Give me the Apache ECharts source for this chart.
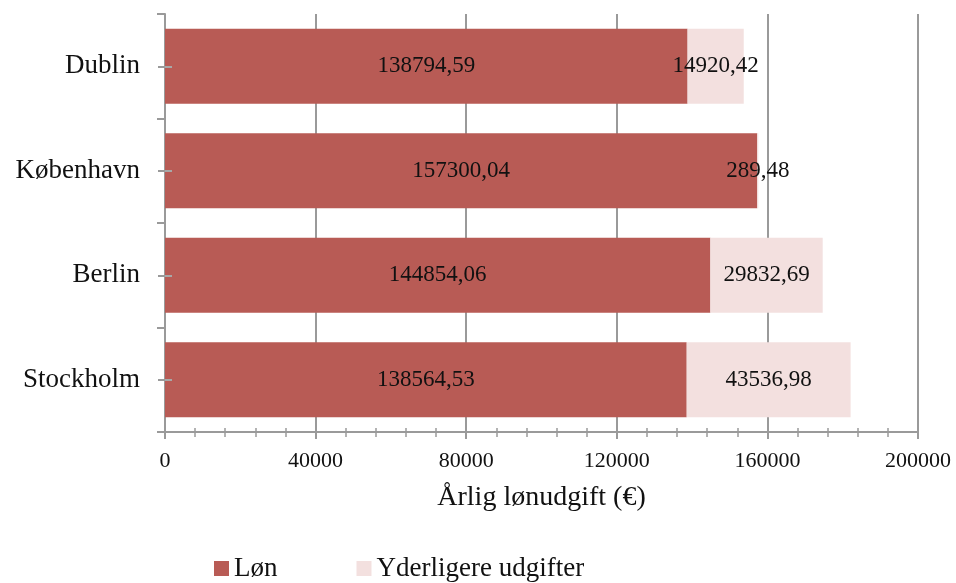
<!DOCTYPE html>
<html>
<head>
<meta charset="utf-8">
<script src="https://cdn.jsdelivr.net/npm/echarts@6/dist/echarts.min.js"></script>
<style>
  html, body { margin: 0; padding: 0; background: #fff; }
  #chart { width: 956px; height: 583px; }
</style>
</head>
<body>
<div id="chart"></div>
<script>
const cities = ['Stockholm', 'Berlin', 'København', 'Dublin']
const lon = [138564.53, 144854.06, 157300.04, 138794.59]
const extra = [43536.98, 29832.69, 289.48, 14920.42]
const seriesNames = ['Løn', 'Yderligere udgifter']
const axisTitle = 'Årlig lønudgift (€)'

const FONT = '"Liberation Serif", serif'
const GRAY = '#9a9a9a'

function fmt(value) {
  return Number(value).toFixed(2).replace('.', ',')
}

const chart = echarts.init(document.getElementById('chart'))

const xBase = { type: 'value', min: 0, max: 200000, interval: 40000, gridIndex: 0 }

const barLabel = {
  show: true,
  position: 'inside',
  formatter: p => fmt(p.value),
  fontFamily: FONT,
  fontSize: 23,
  color: '#111',
}

chart.setOption({
  animation: false,
  grid: { left: 165, right: 38, top: 14, bottom: 151 },
  legend: {
    left: 214,
    top: 555,
    padding: 0,
    itemWidth: 15,
    itemHeight: 15,
    itemGap: 79,
    icon: 'rect',
    textStyle: { fontFamily: FONT, fontSize: 27, color: '#111' },
    data: seriesNames,
  },
  xAxis: [
    {
      ...xBase,
      position: 'bottom',
      z: 0,
      name: axisTitle,
      nameLocation: 'middle',
      nameGap: 52,
      nameTextStyle: { fontFamily: FONT, fontSize: 28, color: '#111' },
      axisLine: { show: true, lineStyle: { color: GRAY, width: 2 } },
      axisTick: { show: true, inside: false, length: 7, lineStyle: { color: GRAY, width: 2 } },
      minorTick: { show: true, splitNumber: 5, length: 5, lineStyle: { color: GRAY, width: 1.5 } },
      axisLabel: { fontFamily: FONT, fontSize: 22, color: '#111', margin: 18, formatter: v => String(v) },
      splitLine: { show: true, lineStyle: { color: GRAY, width: 2 } },
    },
    {
      ...xBase,
      position: 'bottom',
      axisLine: { show: false },
      axisTick: { show: true, inside: true, length: 4, lineStyle: { color: GRAY, width: 1.5 } },
      minorTick: { show: true, splitNumber: 5, length: 4, lineStyle: { color: GRAY, width: 1.5 } },
      axisLabel: { show: false },
      splitLine: { show: false },
    },
  ],
  yAxis: [
    {
      type: 'category',
      data: cities,
      position: 'left',
      axisLine: { show: true, lineStyle: { color: GRAY, width: 2 } },
      axisTick: { show: true, inside: false, length: 8, lineStyle: { color: GRAY, width: 2 } },
      axisLabel: { fontFamily: FONT, fontSize: 27, color: '#111', margin: 25 },
      splitLine: { show: false },
    },
    {
      // ticks at the category centres, crossing the axis line
      type: 'category',
      data: cities,
      position: 'left',
      z: 20,
      axisLine: { show: false },
      axisTick: { show: true, alignWithLabel: true, inside: true, length: 7, lineStyle: { color: '#a8a8a8', width: 2 } },
      axisLabel: { show: false },
    },
    {
      type: 'category',
      data: cities,
      position: 'left',
      axisLine: { show: false },
      axisTick: { show: true, alignWithLabel: true, inside: false, length: 7, lineStyle: { color: GRAY, width: 2 } },
      axisLabel: { show: false },
    },
  ],
  series: [
    {
      name: seriesNames[0],
      type: 'bar',
      stack: 'total',
      yAxisIndex: 0,
      z: 1,
      barCategoryGap: '28%',
      itemStyle: { color: '#b85b55' },
      label: barLabel,
      data: lon,
    },
    {
      name: seriesNames[1],
      type: 'bar',
      stack: 'total',
      yAxisIndex: 0,
      z: 1,
      barCategoryGap: '28%',
      itemStyle: { color: '#f3e0df' },
      label: barLabel,
      data: extra,
    },
  ],
})
</script>
</body>
</html>
